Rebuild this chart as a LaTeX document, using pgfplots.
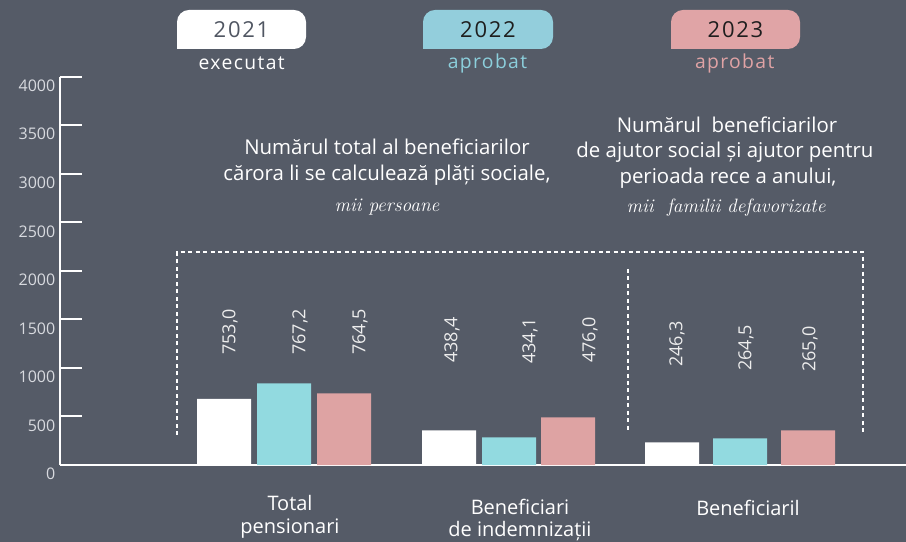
\documentclass[border=0pt]{standalone}
\usepackage{fontspec}
\setsansfont{Open Sans}
\renewcommand{\familydefault}{\sfdefault}
\usepackage{pgfplots}
\pgfplotsset{compat=1.18}
\definecolor{bg}{HTML}{555B67}
\definecolor{barcyan}{HTML}{92DAE0}
\definecolor{barpink}{HTML}{DEA3A3}
\definecolor{boxcyan}{HTML}{93CEDC}
\definecolor{boxpink}{HTML}{E0A4A6}
\definecolor{txtcyan}{HTML}{8CCFDC}
\definecolor{txtpink}{HTML}{E0A3A5}
\definecolor{yrgray}{HTML}{505662}
\definecolor{yrdark}{HTML}{1E1E1E}
\definecolor{ticklab}{HTML}{D8DADF}
\definecolor{vallab}{HTML}{EDEDED}

\begin{document}
\begin{tikzpicture}[x=0.75pt,y=0.75pt]
\fill[bg] (0,0) rectangle (906,542);

% dotted frames around the groups
\draw[white,line width=2pt,dash pattern=on 3pt off 2.6pt]
  (177,107) -- (177,290) -- (863,290) -- (863,110);
\draw[white,line width=2pt,dash pattern=on 3pt off 2.6pt] (628,273) -- (628,110);

\begin{axis}[at={(60,79.3)},anchor=south west,scale only axis,
  width=634.5pt,height=291.3pt,
  xmin=60,xmax=906,ymin=0,ymax=4000,
  axis x line*=bottom,axis y line*=left,
  x axis line style={white,line width=2.2pt,-},
  y axis line style={white,line width=1.5pt,-},
  xtick=\empty,ytick={0,500,...,4000},
  tick align=inside,major tick length=16.5pt,
  ytick style={white,line width=1.5pt},
  yticklabel style={text=ticklab,font=\fontsize{12}{14}\selectfont,yshift=-6.8pt},
  /pgf/number format/assume math mode=true,
  /pgf/number format/1000 sep={},
  clip=false]
\addplot[ybar,bar width=54,bar shift=0pt,fill=white,draw=none]
  coordinates {(224,680) (449,357) (672,234)};
\addplot[ybar,bar width=54,bar shift=0pt,fill=barcyan,draw=none]
  coordinates {(284,841) (509,285) (740,275)};
\addplot[ybar,bar width=54,bar shift=0pt,fill=barpink,draw=none]
  coordinates {(344,738) (568,491) (808,357)};
\end{axis}

% value labels
\begin{scope}[every node/.style={rotate=90,text=vallab,font=\fontsize{13.5}{16}\selectfont}]
\node at (230,210) {753,0};
\node at (300,210) {767,2};
\node at (360,210) {764,5};
\node at (452,202) {438,4};
\node at (530,201) {434,1};
\node at (590,202) {476,0};
\node at (677,198) {246,3};
\node at (746,194) {264,5};
\node at (810,193) {265,0};
\end{scope}

% year boxes
\fill[white,rounded corners=9pt] (177,493) rectangle (306,532);
\fill[white] (177,493) rectangle (197,512);
\fill[boxcyan,rounded corners=9pt] (423,493) rectangle (553,532);
\fill[boxcyan] (423,493) rectangle (443,512);
\fill[boxpink,rounded corners=9pt] (671,493) rectangle (800,532);
\fill[boxpink] (671,493) rectangle (691,512);
\node[text=yrgray,font=\fontsize{16.5}{19}\selectfont\addfontfeatures{LetterSpace=8}] at (241.5,512) {2021};
\node[text=yrdark,font=\fontsize{16.5}{19}\selectfont\addfontfeatures{LetterSpace=8}] at (488,512) {2022};
\node[text=yrdark,font=\fontsize{16.5}{19}\selectfont\addfontfeatures{LetterSpace=8}] at (735.5,512) {2023};
\node[text=white,font=\fontsize{14.5}{17}\selectfont\addfontfeatures{LetterSpace=7}] at (241.7,479) {executat};
\node[text=txtcyan,font=\fontsize{14.5}{17}\selectfont\addfontfeatures{LetterSpace=7}] at (487.5,479) {aprobat};
\node[text=txtpink,font=\fontsize{14.5}{17}\selectfont\addfontfeatures{LetterSpace=7}] at (734.7,479) {aprobat};

% explanatory texts
\begin{scope}[every node/.style={text=white,font=\fontsize{15.3}{18}\selectfont}]
\node at (387,395) {Numărul total al beneficiarilor};
\node at (387,367) {cărora li se calculează plăți sociale,};
\node at (727,417) {Numărul\ \ beneficiarilor};
\node at (725,390) {de ajutor social și ajutor pentru};
\node at (728,364) {perioada rece a anului,};
\end{scope}
\node[text=white,font=\rmfamily\itshape\fontsize{14.5}{17}\selectfont] at (387,335) {mii persoane};
\node[text=white,font=\rmfamily\itshape\fontsize{14.5}{17}\selectfont] at (726,334) {mii\ \ familii defavorizate};

% category labels
\begin{scope}[every node/.style={text=white,font=\fontsize{15}{17}\selectfont}]
\node at (290,39) {Total};
\node at (290,13) {pensionari};
\node at (520,35) {Beneficiari};
\node at (520,11) {de indemnizații};
\node at (748,34) {Beneficiaril};
\end{scope}

\pgfresetboundingbox
\useasboundingbox (0,0) rectangle (906,542);
\end{tikzpicture}
\end{document}
